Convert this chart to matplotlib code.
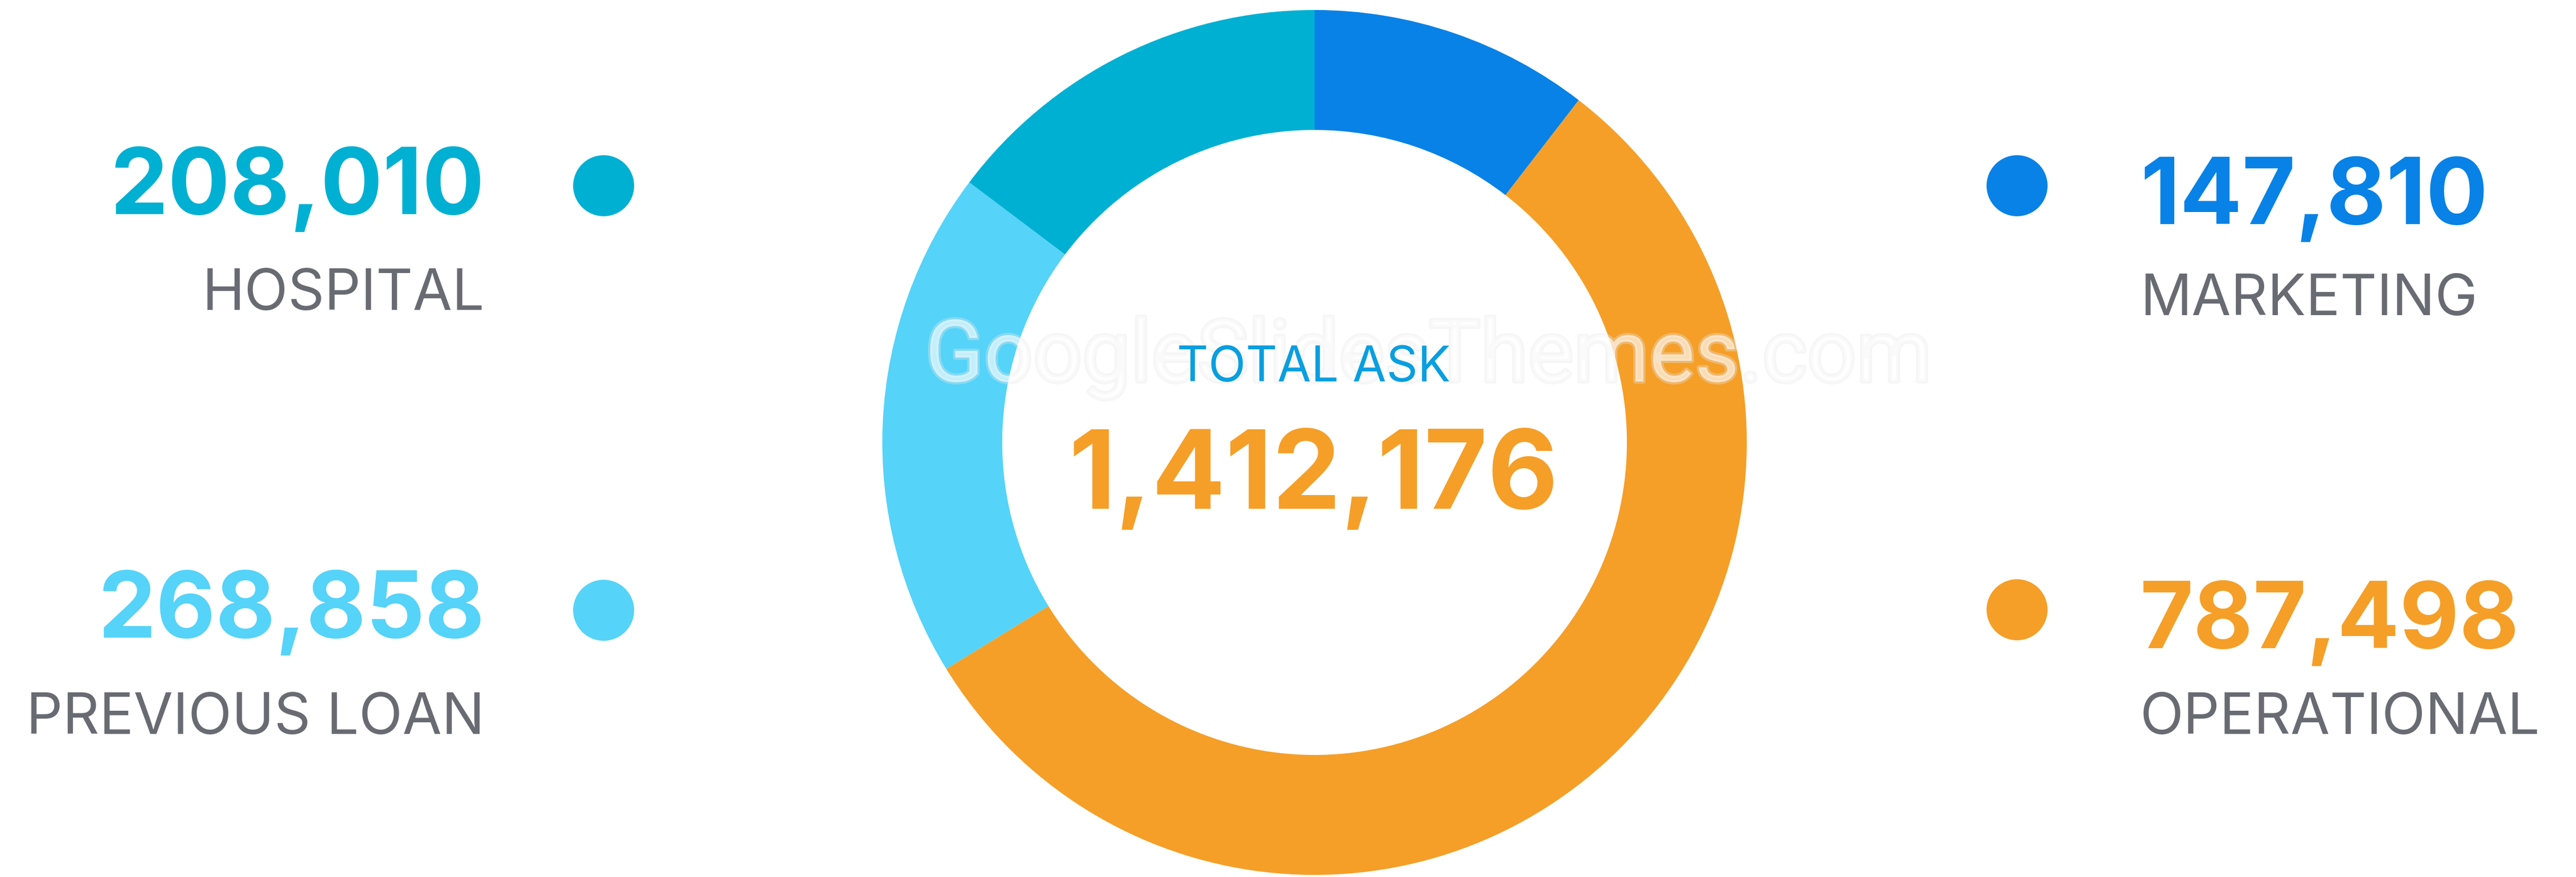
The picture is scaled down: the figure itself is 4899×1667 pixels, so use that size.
import matplotlib
matplotlib.use("Agg")
import matplotlib.pyplot as plt
import matplotlib.patheffects as pe

# data
categories = ["MARKETING", "OPERATIONAL", "PREVIOUS LOAN", "HOSPITAL"]
values = [147810, 787498, 268858, 208010]
colors = ["#0882E6", "#F59F28", "#55D3F9", "#00B0D3"]
total_label = "TOTAL ASK"

W, H = 4899, 1667
GRAY = "#696B73"
FONT = "Inter"


def fy(y):
    # pixel row from top -> data y
    return H - y


fig = plt.figure(figsize=(W / 100, H / 100), dpi=100)
ax = fig.add_axes([0, 0, 1, 1])

ax.pie(values, colors=colors, startangle=90, counterclock=False,
       center=(2500, fy(841)), radius=822,
       wedgeprops=dict(width=228, linewidth=0))

ax.set_xlim(0, W)
ax.set_ylim(0, H)
ax.set_aspect("equal")
ax.axis("off")

# legend blocks: (value idx, dot x, dot y, number baseline, label baseline, side)
blocks = [
    (3, 1148, 353, 407, 589, "left"),
    (2, 1148, 1160, 1212, 1395, "left"),
    (0, 3836, 353, 426, 599, "right"),
    (1, 3836, 1159, 1232, 1395, "right"),
]
for i, dx, dy, nb, lb, side in blocks:
    ax.add_patch(plt.Circle((dx, fy(dy)), 58, color=colors[i], lw=0))
    if side == "left":
        tx, ha = 922, "right"
    else:
        tx, ha = 4070, "left"
    ax.text(tx, fy(nb), f"{values[i]:,}", ha=ha, va="baseline",
            fontsize=126, fontweight="bold", color=colors[i], family=FONT)
    ax.text(tx, fy(lb), categories[i], ha=ha, va="baseline",
            fontsize=78, color=GRAY, family=FONT)

# watermark
ax.text(2717, fy(725), "GoogleSlidesThemes.com", ha="center", va="baseline",
        fontsize=118, color="white", alpha=0.45, family="Roboto",
        path_effects=[pe.withStroke(linewidth=6, foreground="#e8e8e8", alpha=0.35)])

# center text
ax.text(2498, fy(725), total_label, ha="center", va="baseline",
        fontsize=67, color="#089FE0", family=FONT)
ax.text(2498, fy(967), f"{sum(values):,}", ha="center", va="baseline",
        fontsize=149, fontweight="bold", color="#F59F28", family=FONT)

fig.savefig("out.png", dpi=100, facecolor="white")
